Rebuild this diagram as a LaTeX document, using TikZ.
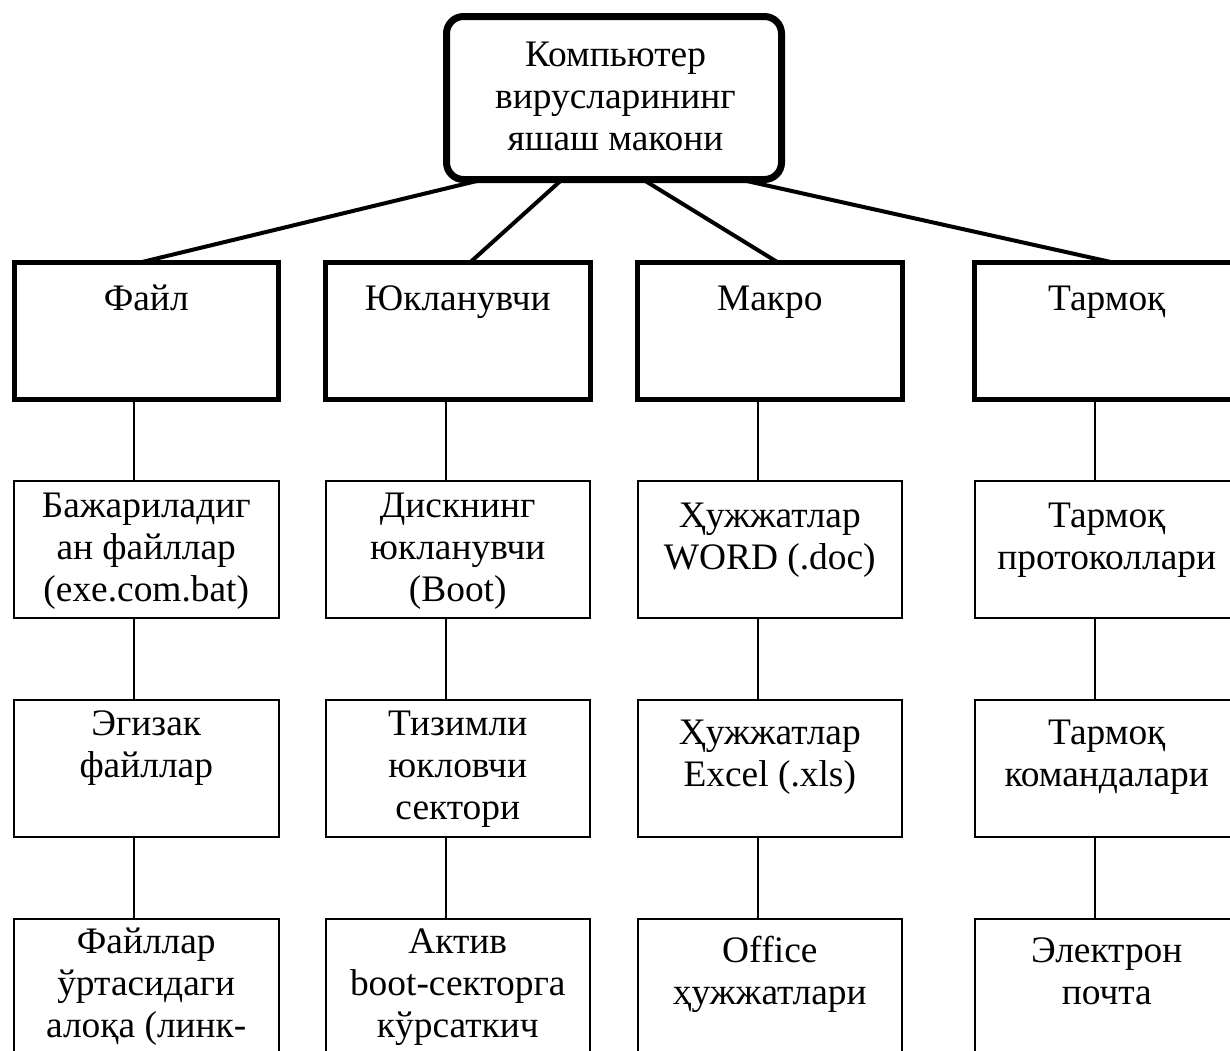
\documentclass[tikz,border=0pt]{standalone}
\usepackage{fontspec}
\setmainfont{Liberation Serif}
\usetikzlibrary{calc}
\begin{document}
\begin{tikzpicture}[x=1pt,y=-1pt,
  topbox/.style={draw, line width=7pt, rounded corners=17pt, minimum width=335pt, minimum height=163pt, inner sep=0pt, outer sep=0pt, anchor=north west},
  lvlone/.style={draw, line width=5pt, rectangle, minimum width=264.5pt, minimum height=136.5pt, inner sep=0pt, outer sep=0pt, anchor=north west},
  lvlbox/.style={draw, line width=2pt, rectangle, minimum width=264.5pt, minimum height=136.5pt, inner sep=0pt, outer sep=0pt, anchor=north west},
  lbl/.style={anchor=north, inner sep=0pt, outer sep=0pt, align=center, font=\fontsize{37.4}{42}\selectfont},
  thickline/.style={line width=4pt},
  thinline/.style={line width=2pt}]
\useasboundingbox (0,0) rectangle (1230,1050);
\fill[white] (0,0) rectangle (1230,1050);
\clip (0,0) rectangle (1230,1050);

% top box
\node[topbox] (top) at (446.5,16.5) {};
\node[lbl] (ttop) at (615.5,37.3) {\strut Компьютер\\\strut вирусларининг\\\strut яшаш макони};

% level 1
\node[lvlone] (a1) at (14,262.5) {};
\node[lvlone] (a2) at (325.5,262.5) {};
\node[lvlone] (a3) at (637.5,262.5) {};
\node[lvlone] (a4) at (974.5,262.5) {};
\node[lbl] (ta1) at (146.25,280.6) {\strut Файл};
\node[lbl] (ta2) at (457.75,280.6) {\strut Юкланувчи};
\node[lbl] (ta3) at (769.75,280.6) {\strut Макро};
\node[lbl] (ta4) at (1106.75,280.6) {\strut Тармоқ};

% level 2
\node[lvlbox] (b1) at (14,481) {};
\node[lvlbox] (b2) at (325.5,481) {};
\node[lvlbox] (b3) at (637.5,481) {};
\node[lvlbox] (b4) at (974.5,481) {};
\node[lbl] (tb1) at (146.25,487.9) {\strut Бажариладиг\\\strut ан файллар\\\strut (exe.com.bat)};
\node[lbl] (tb2) at (457.75,487.9) {\strut Дискнинг\\\strut юкланувчи\\\strut (Boot)};
\node[lbl] (tb3) at (769.75,497.6) {\strut Ҳужжатлар\\\strut WORD (.doc)};
\node[lbl] (tb4) at (1106.75,497.6) {\strut Тармоқ\\\strut протоколлари};

% level 3
\node[lvlbox] (c1) at (14,700) {};
\node[lvlbox] (c2) at (325.5,700) {};
\node[lvlbox] (c3) at (637.5,700) {};
\node[lvlbox] (c4) at (974.5,700) {};
\node[lbl] (tc1) at (146.25,705.6) {\strut Эгизак\\\strut файллар};
\node[lbl] (tc2) at (457.75,705.6) {\strut Тизимли\\\strut юкловчи\\\strut сектори};
\node[lbl] (tc3) at (769.75,714.6) {\strut Ҳужжатлар\\\strut Excel (.xls)};
\node[lbl] (tc4) at (1106.75,714.6) {\strut Тармоқ\\\strut командалари};

% level 4
\node[lvlbox] (d1) at (14,918.5) {};
\node[lvlbox] (d2) at (325.5,918.5) {};
\node[lvlbox] (d3) at (637.5,918.5) {};
\node[lvlbox] (d4) at (974.5,918.5) {};
\node[lbl] (td1) at (146.25,924) {\strut Файллар\\\strut ўртасидаги\\\strut алоқа (линк-};
\node[lbl] (td2) at (457.75,924) {\strut Актив\\\strut boot-секторга\\\strut кўрсаткич};
\node[lbl] (td3) at (769.75,932.6) {\strut Of\kern0pt f\kern0pt ice\\\strut ҳужжатлари};
\node[lbl] (td4) at (1106.75,932.6) {\strut Электрон\\\strut почта};

% connectors from top
\draw[thickline] ([xshift=36.5pt]top.south west) -- ([xshift=126pt]a1.north west);
\draw[thickline] ([xshift=115.5pt]top.south west) -- ([xshift=144.5pt]a2.north west);
\draw[thickline] ([xshift=196.5pt]top.south west) -- ([xshift=140.5pt]a3.north west);
\draw[thickline] ([xshift=293.5pt]top.south west) -- ([xshift=138.5pt]a4.north west);

% vertical connectors
\foreach \col in {1,2,3,4}{
  \draw[thinline] ([xshift=120pt]a\col.south west) -- ([xshift=120pt]b\col.north west);
  \draw[thinline] ([xshift=120pt]b\col.south west) -- ([xshift=120pt]c\col.north west);
  \draw[thinline] ([xshift=120pt]c\col.south west) -- ([xshift=120pt]d\col.north west);
}
\end{tikzpicture}
\end{document}
